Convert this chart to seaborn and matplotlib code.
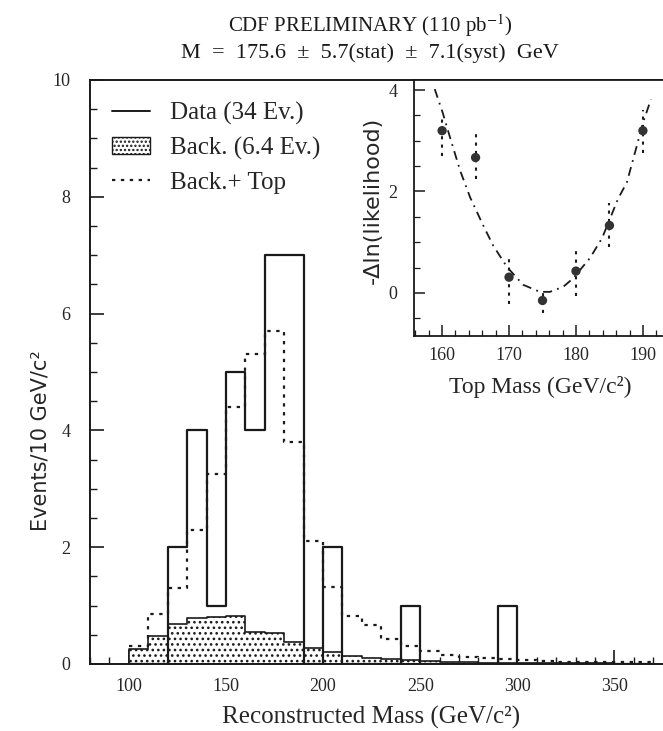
import matplotlib
matplotlib.use("Agg")
import matplotlib.pyplot as plt
from matplotlib.lines import Line2D
from matplotlib.patches import Patch
from matplotlib.ticker import MultipleLocator
import pandas as pd
import seaborn as sns

# reconstructed mass histogram, 10 GeV bins from 100 to 370 GeV
bin_edges = list(range(100, 380, 10))
bin_centers = [e + 5 for e in bin_edges[:-1]]
data_counts = [0, 0, 2, 4, 1, 5, 4, 7, 7, 0, 2, 0, 0, 0, 1, 0, 0, 0, 0, 1,
               0, 0, 0, 0, 0, 0, 0]
back_counts = [0.25, 0.48, 0.68, 0.78, 0.80, 0.82, 0.55, 0.53, 0.38, 0.27,
               0.21, 0.14, 0.11, 0.08, 0.06, 0.05, 0.04, 0.03, 0.02, 0.02,
               0.02, 0.01, 0.01, 0.01, 0.01, 0.0, 0.0]
back_top_counts = [0.30, 0.85, 1.30, 2.30, 3.25, 4.40, 5.30, 5.70, 3.80, 2.10,
                   1.32, 0.82, 0.67, 0.43, 0.31, 0.22, 0.15, 0.12, 0.10, 0.08,
                   0.06, 0.05, 0.04, 0.04, 0.03, 0.03, 0.03]

# likelihood scan (inset)
lik_mass = [160, 165, 170, 175, 180, 185, 190]
lik_val = [3.20, 2.67, 0.31, -0.15, 0.43, 1.33, 3.20]
lik_lo = [2.70, 2.25, -0.22, -0.39, -0.06, 0.90, 2.75]
lik_hi = [3.45, 3.24, 0.75, 0.10, 0.90, 1.78, 3.60]
fit_mass = [158.9, 160.1, 161.2, 162.7, 164.2, 166.0, 167.6, 169.7, 172.1, 174.6,
            176.1, 178.1, 179.6, 182.1, 183.9, 186.3, 187.6, 188.8, 190.0, 191.2]
fit_val = [4.02, 3.55, 3.06, 2.41, 1.88, 1.37, 0.94, 0.51, 0.16, 0.02,
           0.02, 0.12, 0.29, 0.69, 1.08, 1.86, 2.18, 2.76, 3.35, 3.82]

sns.set_theme(style="white")
plt.rcParams['font.family'] = ['Liberation Serif', 'DejaVu Serif']
plt.rcParams['mathtext.fontset'] = 'stix'
plt.rcParams['hatch.linewidth'] = 1.1
sans = ['DejaVu Sans']
ink = '#1a1a1a'

fig = plt.figure(figsize=(6.63, 7.31), dpi=100)
ax = fig.add_axes([0.1357, 0.0917, 0.8643, 0.799])

hist_df = pd.DataFrame({"mass": bin_centers, "data": data_counts,
                        "back": back_counts, "backtop": back_top_counts})
sns.histplot(data=hist_df, x="mass", weights="back", bins=bin_edges,
             element="step", fill=True, facecolor="white", edgecolor=ink,
             hatch="...", linewidth=1.2, ax=ax)
sns.histplot(data=hist_df, x="mass", weights="backtop", bins=bin_edges,
             element="step", fill=False, color=ink, linewidth=1.6,
             linestyle=(0, (1.5, 2.5)), ax=ax)
sns.histplot(data=hist_df, x="mass", weights="data", bins=bin_edges,
             element="step", fill=False, color=ink, linewidth=1.6, ax=ax)

ax.set_xlim(80, 375)
ax.set_ylim(0, 10)
ax.xaxis.set_major_locator(MultipleLocator(50))
ax.xaxis.set_minor_locator(MultipleLocator(10))
ax.yaxis.set_major_locator(MultipleLocator(2))
ax.yaxis.set_minor_locator(MultipleLocator(0.5))
ax.tick_params(which='both', direction='in', bottom=True, left=True,
               top=False, right=False, color=ink, labelsize=13)
ax.tick_params(which='major', length=10, width=1.2)
ax.tick_params(which='minor', length=5, width=1.0)
ax.tick_params(axis='y', pad=14)
ax.tick_params(axis='x', pad=10)
for s in ['left', 'bottom', 'top']:
    ax.spines[s].set_color(ink)
    ax.spines[s].set_linewidth(1.4)
ax.spines['right'].set_visible(False)
ax.set_xlabel("Reconstructed Mass (GeV/c²)", fontsize=18)
ax.set_ylabel("Events/10 GeV/c²", fontsize=15, family=sans)
ax.xaxis.label.set_va('center')
ax.yaxis.label.set_va('center')
ax.xaxis.set_label_coords(0.49, -0.092)
ax.yaxis.set_label_coords(-0.087, 0.382)

handles = [Line2D([], [], color=ink, linewidth=1.4),
           Patch(facecolor="white", edgecolor=ink, hatch="....", linewidth=1.0),
           Line2D([], [], color=ink, linewidth=1.6, linestyle=(0, (1.5, 2.5)))]
labels = ["Data (34 Ev.)", "Back. (6.4 Ev.)", "Back.+ Top"]
ax.legend(handles, labels, loc='upper left', bbox_to_anchor=(0.0, 1.0),
          frameon=False, fontsize=18, handlelength=1.5, labelspacing=0.45,
          handletextpad=0.8)

# inset with the likelihood scan
ins = fig.add_axes([0.6244, 0.5404, 0.3756, 0.3502])
fit_df = pd.DataFrame({"mass": fit_mass, "dlnl": fit_val})
lik_df = pd.DataFrame({"mass": lik_mass, "dlnl": lik_val})
sns.lineplot(data=fit_df, x="mass", y="dlnl", sort=False, color=ink,
             linestyle=(0, (5, 3, 1, 3)), linewidth=1.3, ax=ins)
ins.vlines(lik_mass, lik_lo, lik_hi, colors=ink,
           linestyles=(0, (1.5, 2.5)), linewidth=1.5)
sns.scatterplot(data=lik_df, x="mass", y="dlnl", s=45, color="#333333",
                edgecolor="none", zorder=3, ax=ins)
ins.set_xlim(155.8, 193)
ins.set_ylim(-0.85, 4.2)
ins.xaxis.set_major_locator(MultipleLocator(10))
ins.xaxis.set_minor_locator(MultipleLocator(2))
ins.yaxis.set_major_locator(MultipleLocator(2))
ins.yaxis.set_minor_locator(MultipleLocator(0.5))
ins.tick_params(which='both', direction='in', bottom=True, left=True,
                top=False, right=False, color=ink, labelsize=13)
ins.tick_params(which='major', length=8, width=1.1)
ins.tick_params(which='minor', length=4, width=0.9)
ins.tick_params(axis='x', pad=8)
ins.tick_params(axis='y', pad=12)
for s in ['left', 'bottom', 'top']:
    ins.spines[s].set_color(ink)
    ins.spines[s].set_linewidth(1.3)
ins.spines['right'].set_visible(False)
ins.set_xlabel("Top Mass (GeV/c²)", fontsize=17)
ins.set_ylabel("-Δln(likelihood)", fontsize=16, family=sans)
ins.xaxis.label.set_va('center')
ins.yaxis.label.set_va('center')
ins.xaxis.set_label_coords(0.506, -0.2)
ins.yaxis.set_label_coords(-0.165, 0.53)

fig.text(0.558, 0.965, "CDF PRELIMINARY (110 pb$^{-1}$)", ha='center',
         va='center', fontsize=15, color=ink)
fig.text(0.558, 0.927, "M  =  175.6  ±  5.7(stat)  ±  7.1(syst)  GeV",
         ha='center', va='center', fontsize=16, color=ink)

fig.savefig("out.png", dpi=100)
